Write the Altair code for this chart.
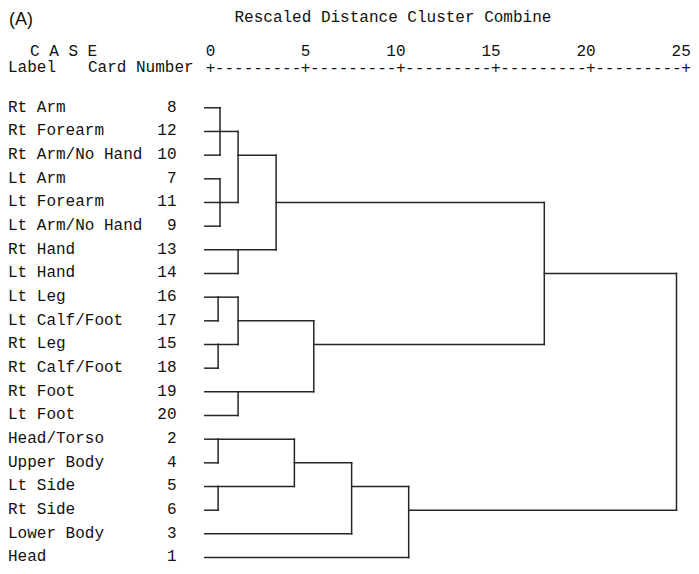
import altair as alt
import pandas as pd

# ---------------- data ----------------
labels = ["Rt Arm", "Rt Forearm", "Rt Arm/No Hand", "Lt Arm", "Lt Forearm",
          "Lt Arm/No Hand", "Rt Hand", "Lt Hand", "Lt Leg", "Lt Calf/Foot",
          "Rt Leg", "Rt Calf/Foot", "Rt Foot", "Lt Foot", "Head/Torso",
          "Upper Body", "Lt Side", "Rt Side", "Lower Body", "Head"]
card_numbers = [8, 12, 10, 7, 11, 9, 13, 14, 16, 17, 15, 18, 19, 20, 2, 4, 5, 6, 3, 1]

# agglomeration steps (children are card numbers or earlier merges "m<k>")
merge_children = [
    [8, 12, 10],      # m1
    [7, 11, 9],       # m2
    ["m1", "m2"],     # m3
    [13, 14],         # m4
    ["m3", "m4"],     # m5
    [16, 17],         # m6
    [15, 18],         # m7
    ["m6", "m7"],     # m8
    [19, 20],         # m9
    ["m8", "m9"],     # m10
    ["m5", "m10"],    # m11
    [2, 4],           # m12
    [5, 6],           # m13
    ["m12", "m13"],   # m14
    ["m14", 3],       # m15
    ["m15", 1],       # m16
    ["m11", "m16"],   # m17
]
merge_heights = [0.5, 0.5, 1.45, 1.45, 3.45, 0.4, 0.4, 1.45, 1.45, 5.43,
                 17.55, 0.4, 0.4, 4.41, 7.42, 10.42, 24.5]

ticks = [0, 5, 10, 15, 20, 25]
title_text = "Rescaled Distance Cluster Combine"
panel_tag = "(A)"
case_text = "C A S E"
label_head = "Label"
card_head = "Card Number"

# ---------------- layout / style ----------------
W, H = 683, 558
X0_PX, X_UNIT = 202.5, 19.02     # pixel of distance 0, pixels per unit
Y0_PX, Y_STEP = 99.8, 23.67      # pixel of first row, pixels per row
LEAF_START = -0.3
MONO = "Courier New, Courier, Liberation Mono, monospace"
FS = 16
INK = "#111111"
LINE = "#262626"

x_scale = alt.Scale(domain=[-X0_PX / X_UNIT, (W - X0_PX) / X_UNIT], nice=False, zero=False)
y_scale = alt.Scale(domain=[-Y0_PX / Y_STEP, (H - Y0_PX) / Y_STEP], nice=False, zero=False, reverse=True)

# ---------------- build dendrogram segments ----------------
pos = {}
for i, c in enumerate(card_numbers):
    pos[c] = (i, LEAF_START)
segs = []
for k, (children, h) in enumerate(zip(merge_children, merge_heights)):
    rows = []
    for ch in children:
        r, x = pos[ch]
        segs.append({"x": x, "x2": h, "y": r, "y2": r})
        rows.append(r)
    top, bot = min(rows), max(rows)
    segs.append({"x": h, "x2": h, "y": top, "y2": bot})
    pos[f"m{k + 1}"] = ((top + bot) // 2, h)
seg_df = pd.DataFrame(segs)

rows_df = pd.DataFrame({"row": list(range(len(labels))), "label": labels,
                        "card": [str(c) for c in card_numbers]})
tick_df = pd.DataFrame({"t": ticks, "lab": [str(t) for t in ticks], "plus": ["+"] * len(ticks)})
dash_df = pd.DataFrame({"t": [(a + b) / 2 for a, b in zip(ticks[:-1], ticks[1:])],
                        "d": ["---------"] * (len(ticks) - 1)})

X = lambda f: alt.X(f, scale=x_scale, axis=None)
Y = lambda f: alt.Y(f, scale=y_scale, axis=None)

tree = alt.Chart(seg_df).mark_rule(stroke=LINE, strokeWidth=1.5, strokeCap="square").encode(
    x=X("x:Q"), x2="x2:Q", y=Y("y:Q"), y2="y2:Q")

lab_txt = alt.Chart(rows_df).mark_text(font=MONO, fontSize=FS, align="left", baseline="alphabetic",
                                       dy=3.7, color=INK).encode(
    x=alt.value(0), y=Y("row:Q"), text="label:N")
card_txt = alt.Chart(rows_df).mark_text(font=MONO, fontSize=FS, align="right", baseline="alphabetic",
                                        dy=3.7, color=INK).encode(
    x=alt.value(168.5), y=Y("row:Q"), text="card:N")

tick_lab = alt.Chart(tick_df).mark_text(font=MONO, fontSize=FS, align="right", baseline="alphabetic",
                                        dx=4.8, color=INK).encode(
    x=X("t:Q"), y=alt.value(47.7), text="lab:N")
tick_plus = alt.Chart(tick_df).mark_text(font=MONO, fontSize=FS, align="center", baseline="middle",
                                         color=INK).encode(
    x=X("t:Q"), y=alt.value(60), text="plus:N")
tick_dash = alt.Chart(dash_df).mark_text(font=MONO, fontSize=FS, align="center", baseline="middle",
                                         color=INK).encode(
    x=X("t:Q"), y=alt.value(60), text="d:N")

def header(txt, x, y, font=MONO, size=FS):
    return alt.Chart(pd.DataFrame({"s": [txt]})).mark_text(
        font=font, fontSize=size, align="left", baseline="alphabetic", color=INK).encode(
        x=alt.value(x), y=alt.value(y), text="s:N")

heads = [
    header(panel_tag, 1, 16.8, font="Liberation Sans, Arial, sans-serif", size=18),
    header(title_text, 226.5, 13.5),
    header(case_text, 22, 47.7),
    header(label_head, 0, 63.7),
    header(card_head, 80, 63.7),
]

chart = alt.layer(tree, lab_txt, card_txt, tick_lab, tick_plus, tick_dash, *heads).properties(
    width=W, height=H, autosize=alt.AutoSizeParams(type="none"), padding=0,
    background="white"
).configure_view(stroke=None)

chart.save("out.html", embed_options={"renderer": "svg", "actions": False})
